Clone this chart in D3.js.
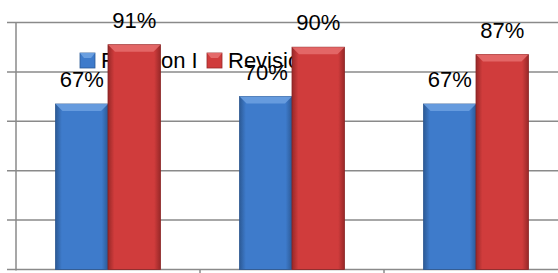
<!DOCTYPE html>
<html>
<head>
<meta charset="utf-8">
<script src="https://cdn.jsdelivr.net/npm/d3@7"></script>
<style>
  html, body { margin: 0; padding: 0; background: #fff; overflow: hidden; }
  svg { display: block; }
</style>
</head>
<body>
<div id="chart"></div>
<script>
// data
var categories = ["A", "B", "C"];
var seriesNames = ["Revision I", "Revision II"];
var revision1 = [0.67, 0.70, 0.67];
var revision2 = [0.91, 0.90, 0.87];
var yTicks = [0, 0.2, 0.4, 0.6, 0.8, 1.0];

var width = 558, height = 273;
var fontFam = "'Liberation Sans', Arial, sans-serif";

var svg = d3.select("#chart").append("svg")
	.attr("width", width)
	.attr("height", height);

var rows = categories.map(function (c, i) {
	return { cat: c, values: [revision1[i], revision2[i]] };
});

var y = d3.scaleLinear().domain([0, 1]).range([269.5, 22.5]);
var x0 = d3.scaleBand().domain(categories).range([16, 568])
	.paddingInner(0.43).paddingOuter(0.215);
var x1 = d3.scaleBand().domain([0, 1]).range([0, x0.bandwidth()]);

var palette = [
	{ main: "#3e7bcb", light: "#6a9fe0", dark: "#2c5a96", edge: "#2a5590" },
	{ main: "#d03c3c", light: "#e46a6a", dark: "#982828", edge: "#8a2424" }
];

//gradients
var defs = svg.append("defs");
palette.forEach(function (p, i) {
	var g = defs.append("linearGradient").attr("id", "g" + i)
		.attr("x1", 0).attr("x2", 1).attr("y1", 0).attr("y2", 0);
	g.append("stop").attr("offset", "0%").attr("stop-color", p.dark);
	g.append("stop").attr("offset", "12%").attr("stop-color", p.main);
	g.append("stop").attr("offset", "88%").attr("stop-color", p.main);
	g.append("stop").attr("offset", "100%").attr("stop-color", p.dark);
});

//gridlines
svg.append("g").selectAll("line")
	.data(yTicks)
	.enter().append("line")
	.attr("x1", 7).attr("x2", width)
	.attr("y1", function (d) { return y(d); })
	.attr("y2", function (d) { return y(d); })
	.attr("stroke", "#8a8a8a")
	.attr("stroke-width", 1.5);

//axis lines
svg.append("line")
	.attr("x1", 16).attr("x2", 16)
	.attr("y1", y(1)).attr("y2", y(0) + 1)
	.attr("stroke", "#8a8a8a").attr("stroke-width", 1.5);

svg.append("g").selectAll("line")
	.data(categories.slice(1))
	.enter().append("line")
	.attr("x1", function (d) { return x0(d) - x0.step() * x0.paddingInner() / 2; })
	.attr("x2", function (d) { return x0(d) - x0.step() * x0.paddingInner() / 2; })
	.attr("y1", y(0)).attr("y2", height)
	.attr("stroke", "#8a8a8a").attr("stroke-width", 1.5);

//legend (drawn under the bars)
var legend = svg.append("g");
var legendX = [80, 207];
seriesNames.forEach(function (name, i) {
	legend.append("rect")
		.attr("x", legendX[i]).attr("y", 53)
		.attr("width", 15).attr("height", 15)
		.attr("fill", palette[i].main)
		.attr("stroke", palette[i].dark).attr("stroke-width", 0.8);
	legend.append("path")
		.attr("d", "M" + legendX[i] + ",53h15l-4,5h-7z")
		.attr("fill", palette[i].light);
	legend.append("text")
		.attr("x", legendX[i] + 21).attr("y", 68)
		.attr("font-family", fontFam).attr("font-size", "22px")
		.attr("fill", "#000")
		.text(name);
});

//bars
var groups = svg.append("g").selectAll("g")
	.data(rows)
	.enter().append("g")
	.attr("transform", function (d) { return "translate(" + x0(d.cat) + ",0)"; });

var bars = groups.selectAll("g")
	.data(function (d) { return d.values.map(function (v, i) { return { v: v, s: i }; }); })
	.enter().append("g");

bars.append("rect")
	.attr("x", function (d) { return x1(d.s); })
	.attr("y", function (d) { return y(d.v); })
	.attr("width", x1.bandwidth())
	.attr("height", function (d) { return y(0) - y(d.v); })
	.attr("fill", function (d) { return "url(#g" + d.s + ")"; })
	.attr("stroke", function (d) { return palette[d.s].edge; })
	.attr("stroke-width", 0.8);

//top bevel
bars.append("path")
	.attr("d", function (d) {
		var bx = x1(d.s), bw = x1.bandwidth(), by = y(d.v), b = 7;
		return "M" + bx + "," + by + "h" + bw + "l-" + b + "," + b + "h-" + (bw - 2 * b) + "z";
	})
	.attr("fill", function (d) { return palette[d.s].light; })
	.attr("opacity", 0.9);

//value labels
bars.append("text")
	.attr("x", function (d) { return x1(d.s) + x1.bandwidth() / 2; })
	.attr("y", function (d) { return y(d.v) - 17; })
	.attr("text-anchor", "middle")
	.attr("font-family", fontFam)
	.attr("font-size", "22px")
	.attr("fill", "#000")
	.text(function (d) { return Math.round(d.v * 100) + "%"; });
</script>
</body>
</html>
